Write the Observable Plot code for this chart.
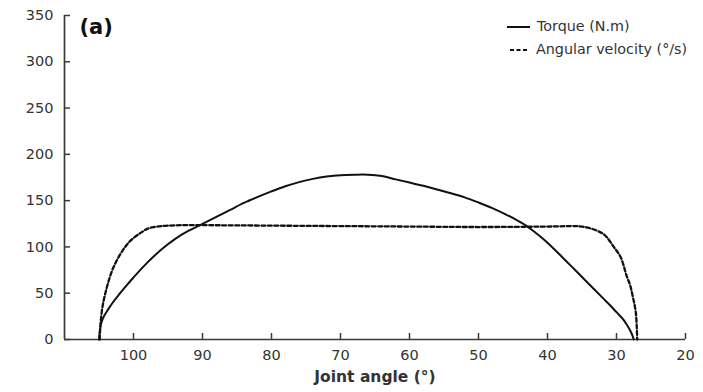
<!DOCTYPE html>
<html>
<head>
<meta charset="utf-8">
<script src="https://cdn.jsdelivr.net/npm/d3@7"></script>
<script src="https://cdn.jsdelivr.net/npm/@observablehq/plot@0.6"></script>
<style>
  html, body { margin: 0; padding: 0; background: #fff; }
  #wrap { position: relative; width: 703px; height: 392px; font-family: "DejaVu Sans", sans-serif; }
  #legend { position: absolute; left: 506px; top: 15px; font-size: 14.3px; color: #333; line-height: 23px; }
  #legend div { display: flex; align-items: center; white-space: nowrap; }
  #legend svg { margin-right: 7px; }
</style>
</head>
<body>
<div id="wrap">
  <div id="chart"></div>
  <div id="legend">
    <div><svg width="24" height="10"><line x1="1" x2="24" y1="5" y2="5" stroke="#111" stroke-width="2"/></svg>Torque (N.m)</div>
    <div><svg width="23" height="10"><line x1="4" x2="23" y1="5" y2="5" stroke="#111" stroke-width="2" stroke-dasharray="4,2.5"/></svg>Angular velocity (°/s)</div>
  </div>
</div>
<script>
const torqueAngle = [105.0, 104.9, 104.7, 104.3, 103.8, 103, 102, 101, 100, 98, 96, 94, 92, 90, 88, 86, 84, 82, 80, 78, 76, 74, 72, 70, 68, 66, 64, 62, 60, 58, 56, 54, 52, 50, 48, 46, 44, 43, 42, 41, 40, 38, 36, 34, 32, 31, 30, 29, 28.5, 28, 27.7, 27.5];
const torqueValue = [0, 8, 17, 25, 31, 40, 49.5, 58.5, 67, 83, 97, 108.5, 117.5, 125, 132.5, 140, 147.5, 154, 160, 165.5, 170, 173.5, 176, 177.5, 178, 178, 176.5, 173, 169.5, 166, 162, 158, 153.5, 148, 142, 135, 127, 122.5, 117, 111, 104.5, 90, 75, 60, 45, 37.5, 29.5, 21.5, 16, 9.5, 4.5, 0];

const velocityAngle = [104.9, 104.8, 104.5, 103.8, 102.9, 101.5, 100.4, 99.0, 98.0, 97.0, 96.0, 95.0, 93.0, 90.0, 80.0, 70.0, 60.0, 50.0, 40.0, 36.0, 35.0, 34.0, 33.0, 32.0, 31.4, 30.4, 29.4, 28.5, 28.0, 27.6, 27.2, 27.0];
const velocityValue = [0, 15, 35, 58, 78, 97, 107, 115, 119.5, 121.5, 122.5, 123, 123.5, 123.5, 123, 122.5, 122, 121.5, 122, 122.5, 122, 120.5, 118, 114.5, 110.5, 100, 89, 68, 58, 45, 29, 0];

const xTicks = [100, 90, 80, 70, 60, 50, 40, 30, 20];
const yTicks = [0, 50, 100, 150, 200, 250, 300, 350];

const torque = torqueAngle.map((a, i) => ({angle: a, value: torqueValue[i]}));
const velocity = velocityAngle.map((a, i) => ({angle: a, value: velocityValue[i]}));

const axisColor = "#3a3a3a";
const textColor = "#333";
const xMin = 110, xMax = 20, yMin = 0, yMax = 350;
// inward tick length ~6px, expressed in data units
const yTickLenData = (xMin - xMax) * 6 / 621;
const xTickLenData = (yMax - yMin) * 6 / 324;

const plot = Plot.plot({
  width: 703,
  height: 392,
  marginLeft: 64,
  marginRight: 18,
  marginTop: 15,
  marginBottom: 53,
  style: { fontFamily: "DejaVu Sans, sans-serif", color: textColor, background: "#fff" },
  x: { domain: [xMin, xMax], label: null },
  y: { domain: [yMin, yMax], label: null },
  marks: [
    Plot.axisY({ ticks: yTicks, tickSize: 0, tickPadding: 11, fontSize: 14.5, fill: textColor }),
    Plot.axisX({ ticks: xTicks, tickSize: 0, tickPadding: 10, fontSize: 14.5, fill: textColor }),
    Plot.ruleY(yTicks, { y: d => d, x1: xMin, x2: xMin - yTickLenData, stroke: axisColor, strokeWidth: 1.5 }),
    Plot.ruleX(xTicks, { x: d => d, y1: yMin, y2: yMin + xTickLenData, stroke: axisColor, strokeWidth: 1.5 }),
    Plot.ruleX([xMin], { stroke: axisColor, strokeWidth: 1.7 }),
    Plot.ruleY([yMin], { stroke: axisColor, strokeWidth: 1.7 }),
    Plot.line(velocity, { x: "angle", y: "value", curve: "catmull-rom", stroke: "#111", strokeWidth: 2.3, strokeDasharray: "4,2.5" }),
    Plot.line(torque, { x: "angle", y: "value", curve: "catmull-rom", stroke: "#111", strokeWidth: 2 }),
    Plot.text(["(a)"], { frameAnchor: "top-left", dx: 15, dy: 4, fontSize: 21, fontWeight: "bold", fill: "#111", textAnchor: "start" }),
    Plot.text(["Joint angle (°)"], { frameAnchor: "bottom", dy: 42, fontSize: 15.5, fontWeight: "bold", fill: textColor })
  ]
});
document.getElementById("chart").appendChild(plot);
</script>
</body>
</html>
